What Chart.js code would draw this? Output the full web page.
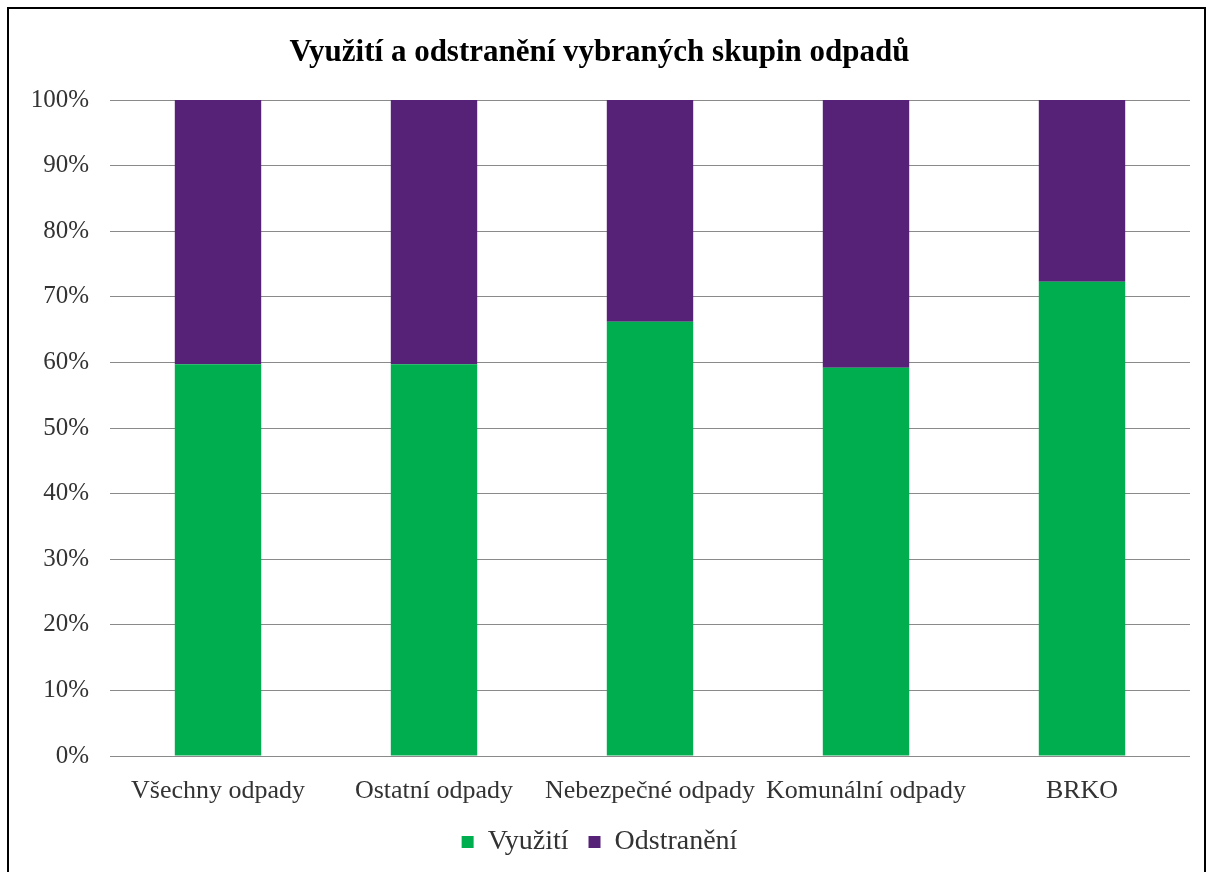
<!DOCTYPE html>
<html>
<head>
<meta charset="utf-8">
<script src="https://cdn.jsdelivr.net/npm/chart.js@4"></script>
<style>
  body { margin: 0; background: #fff; overflow: hidden; }
  #frame {
    position: absolute; left: 7px; top: 7px;
    width: 1195px; height: 870px;
    border: 2px solid #000;
  }
</style>
</head>
<body>
<div id="frame"><canvas id="wasteChart" width="1195" height="870"></canvas></div>
<script>
const categories = ['Všechny odpady', 'Ostatní odpady', 'Nebezpečné odpady', 'Komunální odpady', 'BRKO'];
const vyuziti = [59.7, 59.7, 66.2, 59.2, 72.3];
const odstraneni = [40.3, 40.3, 33.8, 40.8, 27.7];
const yTicks = [0, 10, 20, 30, 40, 50, 60, 70, 80, 90, 100];

document.addEventListener('DOMContentLoaded', function() {
  const ctx = document.getElementById('wasteChart');
  const serif = "'Liberation Serif', 'Times New Roman', serif";

  new Chart(ctx, {
    type: 'bar',
    data: {
      labels: categories,
      datasets: [{
        label: 'Využití',
        data: vyuziti,
        backgroundColor: '#00AE50',
        categoryPercentage: 1,
        barPercentage: 0.4
      }, {
        label: 'Odstranění',
        data: odstraneni,
        backgroundColor: '#552277',
        categoryPercentage: 1,
        barPercentage: 0.4
      }]
    },
    options: {
      responsive: false,
      animation: false,
      layout: { padding: { left: 0, right: 14, top: 0, bottom: 13 } },
      plugins: {
        title: {
          display: true,
          text: 'Využití a odstranění vybraných skupin odpadů',
          color: '#000',
          font: { family: serif, size: 31, weight: 'bold' },
          padding: { top: 25.4, bottom: 28.4 }
        },
        legend: {
          position: 'bottom',
          labels: {
            color: '#333',
            font: { family: serif, size: 28 },
            boxWidth: 12,
            boxHeight: 12,
            padding: 20
          }
        },
        tooltip: { enabled: false }
      },
      scales: {
        x: {
          stacked: true,
          grid: { display: false },
          border: { display: false },
          ticks: {
            color: '#333',
            font: { family: serif, size: 26 },
            padding: 12,
            autoSkip: false,
            maxRotation: 0
          },
          afterFit: function(scale) { scale.height = 52; }
        },
        y: {
          stacked: true,
          min: 0,
          max: 100,
          afterBuildTicks: function(scale) {
            scale.ticks = yTicks.map(function(v) { return { value: v }; });
          },
          grid: { color: '#8a8a8a', lineWidth: 1, drawTicks: false },
          border: { display: false },
          ticks: {
            color: '#333',
            font: { family: serif, size: 25 },
            padding: 21,
            callback: function(v) { return v + '%'; }
          },
          afterFit: function(scale) { scale.width = 101; }
        }
      }
    }
  });
});
</script>
</body>
</html>
